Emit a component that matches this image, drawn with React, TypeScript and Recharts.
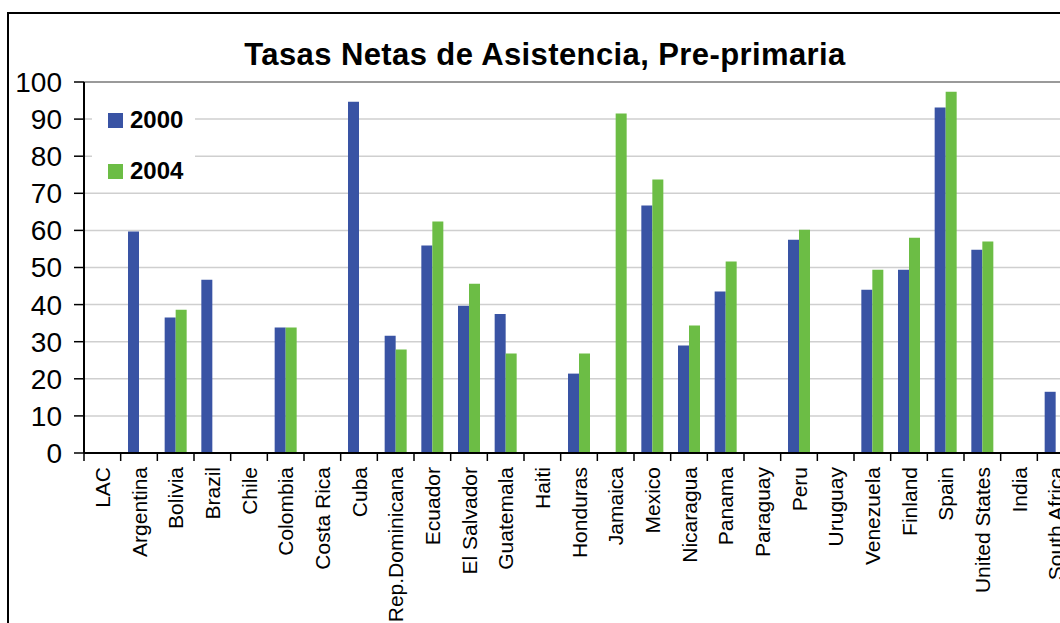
import React from 'react';
import { BarChart, Bar, XAxis, YAxis, CartesianGrid, Legend, ReferenceLine } from 'recharts';

const categories = ['LAC', 'Argentina', 'Bolivia', 'Brazil', 'Chile', 'Colombia', 'Costa Rica', 'Cuba', 'Rep.Dominicana', 'Ecuador', 'El Salvador', 'Guatemala', 'Haiti', 'Honduras', 'Jamaica', 'Mexico', 'Nicaragua', 'Panama', 'Paraguay', 'Peru', 'Uruguay', 'Venezuela', 'Finland', 'Spain', 'United States', 'India', 'South Africa'];
const values2000 = [null, 59.7, 36.5, 46.7, null, 33.8, null, 94.7, 31.6, 55.9, 39.7, 37.5, null, 21.4, null, 66.7, 29.0, 43.5, null, 57.5, null, 44.0, 49.4, 93.1, 54.8, null, 16.5];
const values2004 = [null, null, 38.6, null, null, 33.8, null, null, 27.9, 62.4, 45.6, 26.8, null, 26.8, 91.5, 73.7, 34.4, 51.6, null, 60.2, null, 49.4, 58.0, 97.4, 57.0, null, null];
const seriesNames = ['2000', '2004'];
const yTicks = [0, 10, 20, 30, 40, 50, 60, 70, 80, 90, 100];
const title = 'Tasas Netas de Asistencia, Pre-primaria';

const data = categories.map((name, i) => ({ name, v2000: values2000[i], v2004: values2004[i] }));

const FONT = '"Liberation Sans", Arial, sans-serif';
const BLUE = '#3953a4';
const GREEN = '#6cbd45';

const CHART_W = 1100;
const CHART_H = 700;
const PLOT_LEFT = 84;
const PLOT_RIGHT = 1074;
const PLOT_TOP = 82;
const PLOT_BOTTOM = 453;
const X_AXIS_H = 200;
const BAND = (PLOT_RIGHT - PLOT_LEFT) / categories.length;

const XTick = (props: any) => {
  const { x, y, payload } = props;
  const lx = x - BAND / 2;
  return (
    <g>
      <line x1={lx} y1={y} x2={lx} y2={y + 8} stroke="#000" strokeWidth={1.5} />
      <text
        x={x}
        y={y + 14}
        transform={`rotate(-90, ${x}, ${y + 14})`}
        textAnchor="end"
        dy="0.36em"
        fontSize={21}
        fontFamily={FONT}
        fill="#000"
      >
        {payload.value}
      </text>
    </g>
  );
};

const LegendContent = () => {
  const colors = [BLUE, GREEN];
  return (
    <div style={{ position: 'relative', width: 103, height: 90, background: '#fff' }}>
      {seriesNames.map((n, i) => (
        <React.Fragment key={n}>
          <div style={{ position: 'absolute', left: 16, top: 13 + i * 51, width: 15, height: 15, background: colors[i] }} />
          <div style={{ position: 'absolute', left: 38, top: 20 + i * 51 - 14, height: 28, lineHeight: '28px', fontSize: 24, fontWeight: 'bold', fontFamily: FONT, color: '#000' }}>{n}</div>
        </React.Fragment>
      ))}
    </div>
  );
};

export default function App() {
  return (
    <div style={{ position: 'fixed', left: 0, top: 0, width: 1060, height: 623, overflow: 'hidden', background: '#fff' }}>
      <div style={{ position: 'absolute', left: 7, top: 12, width: 1200, height: 800, border: '2px solid #000', boxSizing: 'border-box' }} />
      <div style={{ position: 'absolute', left: 0, top: 39, width: 1090, textAlign: 'center', fontFamily: FONT, fontWeight: 'bold', fontSize: 31, lineHeight: '31px', letterSpacing: '0.4px', color: '#000' }}>
        {title}
      </div>
      <div style={{ position: 'absolute', left: 0, top: 0 }}>
        <BarChart
          width={CHART_W}
          height={CHART_H}
          data={data}
          margin={{ top: PLOT_TOP, right: CHART_W - PLOT_RIGHT, bottom: CHART_H - PLOT_BOTTOM - X_AXIS_H, left: 0 }}
          barCategoryGap="20%"
          barGap={0}
        >
          <CartesianGrid vertical={false} stroke="#cfcfcf" strokeWidth={1.5} />
          <ReferenceLine y={100} stroke="#9a9a9a" strokeWidth={2} />
          <XAxis
            dataKey="name"
            interval={0}
            height={X_AXIS_H}
            tickLine={false}
            tickSize={0}
            tickMargin={0}
            axisLine={{ stroke: '#000', strokeWidth: 2 }}
            tick={<XTick />}
          />
          <YAxis
            width={PLOT_LEFT}
            domain={[0, 100]}
            ticks={yTicks}
            interval={0}
            tickSize={10}
            tickMargin={12}
            tickLine={{ stroke: '#000', strokeWidth: 1.5 }}
            axisLine={{ stroke: '#000', strokeWidth: 2 }}
            tick={{ fontSize: 28, fontFamily: FONT, fill: '#000' }}
          />
          <Legend
            layout="horizontal"
            verticalAlign="middle"
            align="center"
            content={<LegendContent />}
            wrapperStyle={{ left: 92, top: 100, width: 103, height: 90 }}
          />
          <Bar dataKey="v2000" name="2000" fill={BLUE} isAnimationActive={false} />
          <Bar dataKey="v2004" name="2004" fill={GREEN} isAnimationActive={false} />
        </BarChart>
      </div>
    </div>
  );
}
